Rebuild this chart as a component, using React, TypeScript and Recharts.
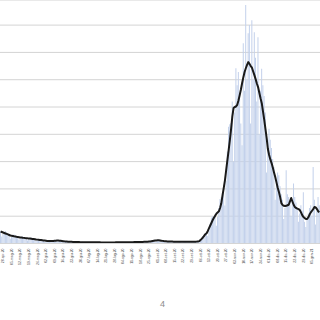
import React from "react";
import { ComposedChart, Bar, Line, XAxis, YAxis, CartesianGrid } from "recharts";

// daily reported values (bars)
const dailyValues: number[] = [
  2200, 1270, 1720, 2120, 2300, 2010, 1740, 1560, 880, 1210,
  1510, 1650, 1470, 1290, 1190, 690, 940, 1190, 1310, 1180,
  1050, 980, 570, 790, 990, 1090, 970, 850, 780, 440,
  600, 750, 810, 710, 620, 560, 320, 430, 510, 560,
  510, 460, 460, 290, 430, 570, 680, 630, 550, 490,
  280, 370, 440, 480, 410, 360, 320, 190, 260, 320,
  350, 310, 280, 260, 150, 210, 270, 300, 270, 250,
  235, 140, 200, 250, 280, 250, 230, 215, 130, 180,
  230, 260, 240, 220, 200, 120, 170, 210, 240, 230,
  210, 205, 120, 180, 230, 260, 250, 230, 220, 130,
  190, 250, 290, 270, 250, 240, 150, 210, 280, 320,
  300, 280, 275, 170, 240, 320, 360, 350, 330, 320,
  200, 310, 420, 530, 530, 530, 540, 340, 510, 650,
  700, 600, 500, 440, 250, 330, 410, 450, 410, 370,
  345, 200, 290, 360, 410, 370, 340, 320, 190, 270,
  360, 410, 370, 350, 330, 200, 290, 370, 420, 390,
  360, 370, 260, 540, 940, 1380, 1610, 1790, 1870, 1380,
  2380, 3630, 4750, 4950, 4940, 5100, 3270, 4850, 6490, 8130,
  8460, 9240, 10200, 6970, 11480, 16830, 21390, 21850, 22050, 26000,
  15000, 24000, 32100, 29000, 31400, 27000, 22000, 18000, 36700, 28000,
  43700, 30000, 38500, 40000, 22000, 40900, 30000, 38700, 34000, 26000,
  37800, 20000, 28000, 32000, 29000, 27000, 24000, 13000, 19000, 21000,
  19000, 17500, 15500, 14000, 8000, 11000, 13000, 12500, 10500, 9000,
  8000, 4500, 6500, 13400, 9000, 8500, 7500, 5000, 8000, 11000,
  8500, 7500, 6500, 4000, 5500, 7000, 6000, 9400, 4000, 3000,
  4500, 5500, 6500, 7000, 5000, 14000, 8000, 3500, 6000, 8500,
  7000,
];

// 7-day moving average (line)
const movingAverage: number[] = [
  2200, 2110, 2020, 1930, 1840, 1750, 1660, 1560, 1460, 1420,
  1370, 1320, 1280, 1230, 1190, 1150, 1100, 1080, 1050, 1030,
  1000, 980, 950, 930, 900, 870, 840, 810, 780, 740,
  710, 680, 650, 620, 590, 560, 530, 500, 460, 450,
  440, 440, 460, 480, 500, 520, 540, 550, 520, 490,
  460, 430, 400, 380, 360, 340, 320, 310, 300, 290,
  280, 270, 265, 260, 255, 250, 245, 240, 240, 235,
  235, 230, 230, 225, 225, 220, 220, 215, 215, 210,
  210, 210, 205, 205, 200, 200, 200, 200, 195, 195,
  200, 200, 205, 205, 210, 210, 215, 215, 220, 220,
  225, 225, 230, 230, 235, 235, 240, 245, 250, 255,
  260, 265, 270, 275, 280, 285, 290, 300, 310, 320,
  340, 360, 380, 420, 460, 500, 540, 570, 600, 590,
  560, 520, 480, 440, 410, 390, 370, 360, 355, 350,
  345, 340, 335, 330, 330, 325, 325, 320, 320, 320,
  320, 325, 325, 330, 330, 330, 335, 335, 340, 340,
  345, 370, 430, 640, 850, 1100, 1400, 1700, 1870, 2300,
  2800, 3300, 3800, 4300, 4700, 5100, 5450, 5700, 5900, 6500,
  7360, 8800, 10200, 11620, 13500, 15300, 17110, 19000, 21000, 23300,
  24800, 25000, 25100, 25400, 26200, 27180, 28200, 29400, 30470, 31400,
  32100, 32700, 33220, 32900, 32500, 32200, 31500, 30840, 30100, 29300,
  28650, 27600, 26600, 25710, 24200, 22700, 21000, 19300, 17300, 16200,
  15400, 14730, 13900, 13000, 12170, 11200, 10200, 9420, 8500, 7400,
  7050, 6900, 6860, 6900, 7000, 7100, 7700, 8330, 7700, 7100,
  6700, 6500, 6400, 6300, 6130, 5700, 5200, 4850, 4650, 4500,
  4480, 4800, 5300, 5700, 6000, 6300, 6680, 6600, 6300, 5900,
  5760,
];

const monthNames: string[] = ["gen", "feb", "mar", "apr", "mag", "giu", "lug", "ago", "set", "ott", "nov", "dic"];

const tickLabels: string[] = [
  "28-apr-20", "05-mag-20", "12-mag-20", "19-mag-20", "26-mag-20", "02-giu-20", "09-giu-20",
  "16-giu-20", "23-giu-20", "30-giu-20", "07-lug-20", "14-lug-20", "21-lug-20", "28-lug-20",
  "04-ago-20", "11-ago-20", "18-ago-20", "25-ago-20", "01-set-20", "08-set-20", "15-set-20",
  "22-set-20", "29-set-20", "06-ott-20", "13-ott-20", "20-ott-20", "27-ott-20", "03-nov-20",
  "10-nov-20", "17-nov-20", "24-nov-20", "01-dic-20", "08-dic-20", "15-dic-20", "22-dic-20",
  "29-dic-20", "05-gen-21",
];

const yTicks: number[] = [0, 5000, 10000, 15000, 20000, 25000, 30000, 35000, 40000];

const fmtDate = (i: number): string => {
  const d = new Date(Date.UTC(2020, 3, 26 + i));
  const dd = String(d.getUTCDate()).padStart(2, "0");
  const yy = String(d.getUTCFullYear() % 100).padStart(2, "0");
  return `${dd}-${monthNames[d.getUTCMonth()]}-${yy}`;
};

const data = dailyValues.map((v, i) => ({
  date: fmtDate(i),
  daily: v,
  avg: movingAverage[i],
}));

const DateTick = (props: any) => {
  const { x, y, payload } = props;
  return (
    <g transform={`translate(${x},${y})`}>
      <text
        transform="rotate(-90)"
        x={-3}
        y={1.2}
        textAnchor="end"
        fontSize={3.4}
        fill="#4d4d4d"
        fontFamily="Liberation Sans, Arial, sans-serif"
      >
        {payload.value}
      </text>
    </g>
  );
};

export default function App() {
  return (
    <div style={{ position: "absolute", left: 0, top: 0, width: 320, height: 320, background: "#fff" }}>
      <ComposedChart
        width={320}
        height={320}
        data={data}
        margin={{ top: 0, right: 0, bottom: 0, left: 0 }}
        barCategoryGap={0}
        barGap={0}
      >
        <CartesianGrid horizontal vertical={false} stroke="#d4d4d4" strokeWidth={1} />
        <YAxis hide domain={[0, 44600]} ticks={yTicks} allowDataOverflow />
        <XAxis
          dataKey="date"
          ticks={tickLabels}
          interval={0}
          height={76.5}
          tickLine={false}
          tickSize={0}
          axisLine={{ stroke: "#d4d4d4" }}
          tick={<DateTick />}
        />
        <Bar dataKey="daily" fill="#c3d1eb" isAnimationActive={false} />
        <Line
          type="linear"
          dataKey="avg"
          stroke="#1a1a1a"
          strokeWidth={2}
          strokeLinejoin="round"
          dot={false}
          activeDot={false}
          isAnimationActive={false}
        />
      </ComposedChart>
      <div
        style={{
          position: "absolute",
          left: 160,
          top: 299,
          fontSize: 9,
          color: "#8c8c8c",
          fontFamily: "Liberation Sans, Arial, sans-serif",
        }}
      >
        4
      </div>
    </div>
  );
}
